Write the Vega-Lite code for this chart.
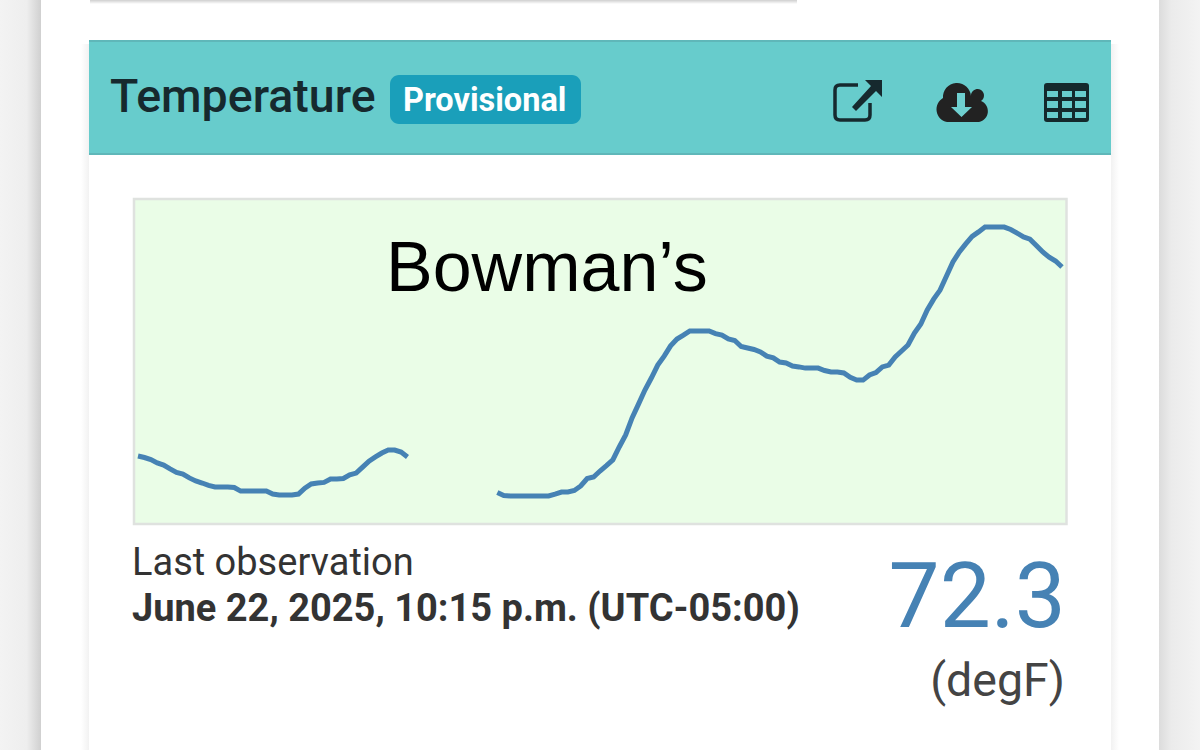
{"$schema":"https://vega.github.io/schema/vega-lite/v6.json","width":1200,"height":750,"padding":0,"autosize":{"type":"fit","contains":"padding"},"background":"#ffffff","config":{"view":{"stroke":null}},
"layer":[
{"data":{"values":[{}]},"mark":{"type":"rect","x":0,"x2":41,"y":0,"y2":750,"fill":{"gradient":"linear","x1":0,"y1":0,"x2":1,"y2":0,"stops":[{"offset":0,"color":"#f3f3f3"},{"offset":0.65,"color":"#eeeeee"},{"offset":1,"color":"#d0d0d0"}]}},"encoding":{}},
{"data":{"values":[{}]},"mark":{"type":"rect","x":1159,"x2":1200,"y":0,"y2":750,"fill":{"gradient":"linear","x1":0,"y1":0,"x2":1,"y2":0,"stops":[{"offset":0,"color":"#dcdcdc"},{"offset":0.3,"color":"#ebebeb"},{"offset":1,"color":"#f3f3f3"}]}},"encoding":{}},
{"data":{"values":[{}]},"mark":{"type":"rect","x":90,"x2":797,"y":0,"y2":4,"fill":{"gradient":"linear","x1":0,"y1":0,"x2":0,"y2":1,"stops":[{"offset":0,"color":"#cfcfcf"},{"offset":1,"color":"#ffffff"}]}},"encoding":{}},
{"data":{"values":[{}]},"mark":{"type":"rect","x":1111,"x2":1119,"y":44,"y2":750,"fill":{"gradient":"linear","x1":0,"y1":0,"x2":1,"y2":0,"stops":[{"offset":0,"color":"#f2f2f2"},{"offset":1,"color":"#ffffff"}]}},"encoding":{}},
{"data":{"values":[{}]},"mark":{"type":"rect","x":81,"x2":89,"y":44,"y2":750,"fill":{"gradient":"linear","x1":0,"y1":0,"x2":1,"y2":0,"stops":[{"offset":0,"color":"#ffffff"},{"offset":1,"color":"#f2f2f2"}]}},"encoding":{}},
{"data":{"values":[{}]},"mark":{"type":"rect","x":89,"x2":1111,"y":40,"y2":155,"fill":"#5fb7b9"},"encoding":{}},
{"data":{"values":[{}]},"mark":{"type":"rect","x":89,"x2":1111,"y":42,"y2":153,"fill":"#67cccc"},"encoding":{}},
{"data":{"values":[{}]},"mark":{"type":"rect","x":134,"x2":1066.5,"y":199,"y2":524,"fill":"#eafde7","stroke":"#dfe2df","strokeWidth":2.5},"encoding":{}},
{"data":{"values":[{}]},"mark":{"type":"rect","x":390,"x2":581,"y":75,"y2":124,"fill":"#1a9fba","cornerRadius":9},"encoding":{}},
{"data":{"values":[{"label":"Temperature"}]},"mark":{"type":"text","x":110,"y":112,"align":"left","baseline":"alphabetic","font":"Roboto","fontSize":46.5,"fontWeight":500,"color":"#16292e"},"encoding":{"text":{"field":"label"}}},
{"data":{"values":[{"label":"Provisional"}]},"mark":{"type":"text","x":403,"y":111,"align":"left","baseline":"alphabetic","font":"Roboto","fontSize":32.5,"fontWeight":700,"color":"#ffffff"},"encoding":{"text":{"field":"label"}}},
{"data":{"values":[{}]},"mark":{"type":"point","x":857,"y":101,"size":4,"filled":false,"opacity":1,"stroke":"#16292e","strokeWidth":3.5,"shape":"M1,-16 H-17 Q-22,-16 -22,-11 V14 Q-22,19 -17,19 H8 Q13,19 13,14 V2"},"encoding":{}},
{"data":{"values":[{}]},"mark":{"type":"point","x":857,"y":101,"size":4,"filled":true,"opacity":1,"fill":"#16292e","shape":"M8,-21 H25 V-4 L19,-10 L-1,10 L-5,6 L14,-15 Z"},"encoding":{}},
{"data":{"values":[{}]},"mark":{"type":"point","x":963,"y":102,"size":4,"filled":true,"opacity":1,"fill":"#222222","shape":"M-16,20 A13,13 0 0 1 -20,-4 A14,14 0 0 1 8,-6 A6.5,6.5 0 1 1 18,-1 A11,11 0 0 1 16,20 Z"},"encoding":{}},
{"data":{"values":[{}]},"mark":{"type":"point","x":963,"y":102,"size":4,"filled":true,"opacity":1,"fill":"#6fd0d0","shape":"M-6,-9 H2 V5 H9 L-1.5,15 L-12,5 H-6 Z"},"encoding":{}},
{"data":{"values":[{}]},"mark":{"type":"point","x":1066,"y":102,"size":4,"filled":true,"opacity":1,"fill":"#14292c","shape":"M-19,-19 H20 Q23,-19 23,-16 V17 Q23,20 20,20 H-19 Q-22,20 -22,17 V-16 Q-22,-19 -19,-19 Z"},"encoding":{}},
{"data":{"values":[{}]},"mark":{"type":"point","x":1066,"y":102,"size":4,"filled":true,"opacity":1,"fill":"#67cccc","shape":"M-19,-11 H-8 V-5 H-19 Z M-4,-11 H6 V-5 H-4 Z M9,-11 H20 V-5 H9 Z M-19,-1 H-8 V6 H-19 Z M-4,-1 H6 V6 H-4 Z M9,-1 H20 V6 H9 Z M-19,10 H-8 V16 H-19 Z M-4,10 H6 V16 H-4 Z M9,10 H20 V16 H9 Z"},"encoding":{}},
{"data":{"values":[{"label":"Bowman’s"}]},"mark":{"type":"text","x":386,"y":291,"align":"left","baseline":"alphabetic","font":"Liberation Sans","fontSize":70,"color":"#000000"},"encoding":{"text":{"field":"label"}}},
{"data":{"values":[{"label":"Last observation"}]},"mark":{"type":"text","x":132,"y":575,"align":"left","baseline":"alphabetic","font":"Roboto","fontSize":38,"color":"#333333"},"encoding":{"text":{"field":"label"}}},
{"data":{"values":[{"label":"June 22, 2025, 10:15 p.m. (UTC-05:00)"}]},"mark":{"type":"text","x":132,"y":621,"align":"left","baseline":"alphabetic","font":"Roboto","fontSize":38,"fontWeight":700,"color":"#333333"},"encoding":{"text":{"field":"label"}}},
{"data":{"values":[{"label":"72.3"}]},"mark":{"type":"text","x":1066,"y":627,"align":"right","baseline":"alphabetic","font":"Roboto","fontSize":91,"color":"#4682b4"},"encoding":{"text":{"field":"label"}}},
{"data":{"values":[{"label":"(degF)"}]},"mark":{"type":"text","x":1065,"y":696,"align":"right","baseline":"alphabetic","font":"Roboto","fontSize":46.5,"color":"#444444"},"encoding":{"text":{"field":"label"}}},
{"data":{"name":"temp","values":[
{"run":1,"hours":0,"degF":66.0},{"run":1,"hours":0.5,"degF":65.95},{"run":1,"hours":1,"degF":65.88},{"run":1,"hours":1.5,"degF":65.77},{"run":1,"hours":2,"degF":65.7},{"run":1,"hours":2.5,"degF":65.57},{"run":1,"hours":3,"degF":65.45},{"run":1,"hours":3.5,"degF":65.4},{"run":1,"hours":4,"degF":65.27},{"run":1,"hours":4.5,"degF":65.17},{"run":1,"hours":5,"degF":65.1},{"run":1,"hours":5.5,"degF":65.02},{"run":1,"hours":6,"degF":64.97},{"run":1,"hours":6.5,"degF":64.97},{"run":1,"hours":7,"degF":64.97},{"run":1,"hours":7.5,"degF":64.95},{"run":1,"hours":8,"degF":64.83},{"run":1,"hours":8.5,"degF":64.83},{"run":1,"hours":9,"degF":64.83},{"run":1,"hours":9.5,"degF":64.83},{"run":1,"hours":10,"degF":64.83},{"run":1,"hours":10.5,"degF":64.73},{"run":1,"hours":11,"degF":64.7},{"run":1,"hours":11.5,"degF":64.7},{"run":1,"hours":12,"degF":64.7},{"run":1,"hours":12.5,"degF":64.73},{"run":1,"hours":13,"degF":64.93},{"run":1,"hours":13.5,"degF":65.07},{"run":1,"hours":14,"degF":65.1},{"run":1,"hours":14.5,"degF":65.12},{"run":1,"hours":15,"degF":65.23},{"run":1,"hours":15.5,"degF":65.23},{"run":1,"hours":16,"degF":65.25},{"run":1,"hours":16.5,"degF":65.37},{"run":1,"hours":17,"degF":65.43},{"run":1,"hours":17.5,"degF":65.63},{"run":1,"hours":18,"degF":65.83},{"run":1,"hours":18.5,"degF":65.97},{"run":1,"hours":19,"degF":66.1},{"run":1,"hours":19.5,"degF":66.2},{"run":1,"hours":20,"degF":66.2},{"run":1,"hours":20.5,"degF":66.13},{"run":1,"hours":21,"degF":65.97},
{"run":2,"hours":28,"degF":64.78},{"run":2,"hours":28.5,"degF":64.68},{"run":2,"hours":29,"degF":64.67},{"run":2,"hours":29.5,"degF":64.67},{"run":2,"hours":30,"degF":64.67},{"run":2,"hours":30.5,"degF":64.67},{"run":2,"hours":31,"degF":64.67},{"run":2,"hours":31.5,"degF":64.67},{"run":2,"hours":32,"degF":64.67},{"run":2,"hours":32.5,"degF":64.73},{"run":2,"hours":33,"degF":64.8},{"run":2,"hours":33.5,"degF":64.8},{"run":2,"hours":34,"degF":64.85},{"run":2,"hours":34.5,"degF":65.0},{"run":2,"hours":35,"degF":65.25},{"run":2,"hours":35.5,"degF":65.3},{"run":2,"hours":36,"degF":65.5},{"run":2,"hours":36.5,"degF":65.68},{"run":2,"hours":37,"degF":65.87},{"run":2,"hours":37.5,"degF":66.3},{"run":2,"hours":38,"degF":66.7},{"run":2,"hours":38.5,"degF":67.27},{"run":2,"hours":39,"degF":67.73},{"run":2,"hours":39.5,"degF":68.2},{"run":2,"hours":40,"degF":68.6},{"run":2,"hours":40.5,"degF":69.03},{"run":2,"hours":41,"degF":69.33},{"run":2,"hours":41.5,"degF":69.67},{"run":2,"hours":42,"degF":69.9},{"run":2,"hours":42.5,"degF":70.03},{"run":2,"hours":43,"degF":70.17},{"run":2,"hours":43.5,"degF":70.17},{"run":2,"hours":44,"degF":70.17},{"run":2,"hours":44.5,"degF":70.17},{"run":2,"hours":45,"degF":70.08},{"run":2,"hours":45.5,"degF":70.03},{"run":2,"hours":46,"degF":69.9},{"run":2,"hours":46.5,"degF":69.85},{"run":2,"hours":47,"degF":69.65},{"run":2,"hours":47.5,"degF":69.6},{"run":2,"hours":48,"degF":69.55},{"run":2,"hours":48.5,"degF":69.47},{"run":2,"hours":49,"degF":69.33},{"run":2,"hours":49.5,"degF":69.27},{"run":2,"hours":50,"degF":69.13},{"run":2,"hours":50.5,"degF":69.1},{"run":2,"hours":51,"degF":69.0},{"run":2,"hours":51.5,"degF":68.97},{"run":2,"hours":52,"degF":68.93},{"run":2,"hours":52.5,"degF":68.93},{"run":2,"hours":53,"degF":68.93},{"run":2,"hours":53.5,"degF":68.85},{"run":2,"hours":54,"degF":68.8},{"run":2,"hours":54.5,"degF":68.8},{"run":2,"hours":55,"degF":68.77},{"run":2,"hours":55.5,"degF":68.62},{"run":2,"hours":56,"degF":68.53},{"run":2,"hours":56.5,"degF":68.53},{"run":2,"hours":57,"degF":68.7},{"run":2,"hours":57.5,"degF":68.78},{"run":2,"hours":58,"degF":68.97},{"run":2,"hours":58.5,"degF":69.03},{"run":2,"hours":59,"degF":69.3},{"run":2,"hours":59.5,"degF":69.5},{"run":2,"hours":60,"degF":69.7},{"run":2,"hours":60.5,"degF":70.1},{"run":2,"hours":61,"degF":70.4},{"run":2,"hours":61.5,"degF":70.87},{"run":2,"hours":62,"degF":71.23},{"run":2,"hours":62.5,"degF":71.53},{"run":2,"hours":63,"degF":72.0},{"run":2,"hours":63.5,"degF":72.47},{"run":2,"hours":64,"degF":72.8},{"run":2,"hours":64.5,"degF":73.07},{"run":2,"hours":65,"degF":73.32},{"run":2,"hours":65.5,"degF":73.47},{"run":2,"hours":66,"degF":73.63},{"run":2,"hours":66.5,"degF":73.63},{"run":2,"hours":67,"degF":73.63},{"run":2,"hours":67.5,"degF":73.63},{"run":2,"hours":68,"degF":73.55},{"run":2,"hours":68.5,"degF":73.43},{"run":2,"hours":69,"degF":73.3},{"run":2,"hours":69.5,"degF":73.23},{"run":2,"hours":70,"degF":73.02},{"run":2,"hours":70.5,"degF":72.8},{"run":2,"hours":71,"degF":72.63},{"run":2,"hours":71.5,"degF":72.5},{"run":2,"hours":72,"degF":72.3}
]},"mark":{"type":"line","color":"#4682b4","strokeWidth":5,"strokeJoin":"miter"},"encoding":{"x":{"field":"hours","type":"quantitative","axis":null,"scale":{"domain":[-10.753,82.753],"nice":false,"zero":false}},"y":{"field":"degF","type":"quantitative","axis":null,"scale":{"domain":[56.2,81.2],"nice":false,"zero":false}},"detail":{"field":"run","type":"nominal"}}}
]}
